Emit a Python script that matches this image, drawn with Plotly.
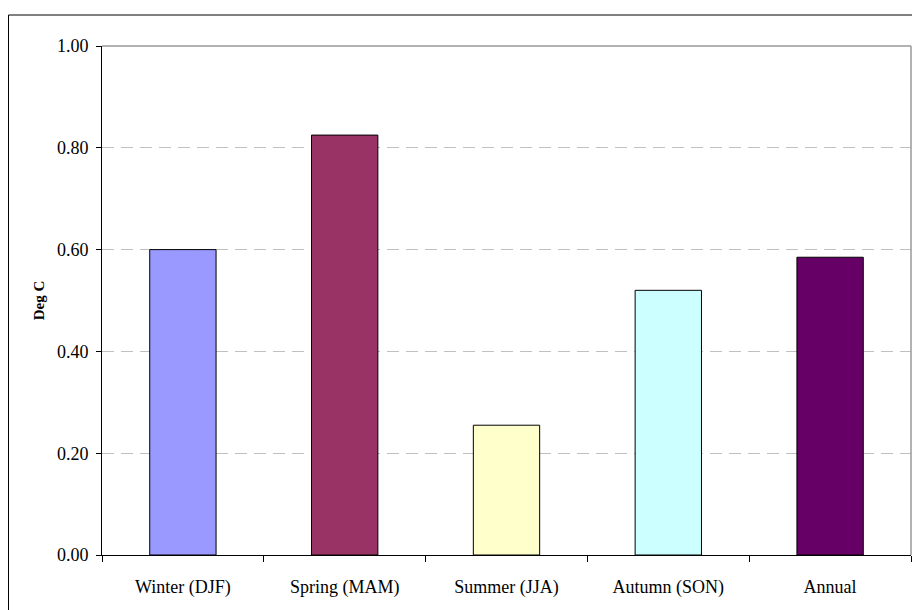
import plotly.graph_objects as go

# Seasonal and annual temperature change (Deg C)
seasons = ["Winter (DJF)", "Spring (MAM)", "Summer (JJA)", "Autumn (SON)", "Annual"]
values = [0.60, 0.825, 0.255, 0.52, 0.585]
bar_colors = ["#9999FF", "#993366", "#FFFFCC", "#CCFFFF", "#660066"]
y_ticks = [0.0, 0.2, 0.4, 0.6, 0.8, 1.0]
y_tick_text = ["0.00", "0.20", "0.40", "0.60", "0.80", "1.00"]

font_family = "Liberation Serif, Times New Roman, serif"

fig = go.Figure(
    go.Bar(
        x=seasons,
        y=values,
        marker=dict(color=bar_colors, line=dict(color="#000000", width=1)),
        width=0.41,
        hoverinfo="x+y",
    )
)

# plot area geometry (pixels)
W, H = 912, 610
L, R, T, B = 102, 1, 46, 55
pw, ph = W - L - R, H - T - B

def px_x(x):
    return (x - L) / pw

def px_y(y):
    return (H - B - y) / ph

fig.update_layout(
    width=W,
    height=H,
    margin=dict(l=L, r=R, t=T, b=B),
    paper_bgcolor="white",
    plot_bgcolor="white",
    showlegend=False,
    font=dict(family=font_family, size=18, color="#000000"),
    xaxis=dict(
        showline=True,
        linecolor="#000000",
        linewidth=1,
        ticks="outside",
        ticklen=6,
        tickcolor="#000000",
        tickson="boundaries",
        showgrid=False,
        ticklabelstandoff=15,
        tickfont=dict(family=font_family, size=18),
        fixedrange=True,
    ),
    yaxis=dict(
        range=[0, 1.0],
        tickvals=y_ticks,
        ticktext=y_tick_text,
        showline=True,
        linecolor="#000000",
        linewidth=1,
        ticks="outside",
        ticklen=5,
        tickcolor="#000000",
        showgrid=True,
        gridcolor="#c0c0c0",
        gridwidth=1,
        griddash="12px,7px",
        zeroline=False,
        ticklabelstandoff=4,
        tickfont=dict(family=font_family, size=18),
        title=dict(
            text="<b>Deg C</b>",
            font=dict(family=font_family, size=15),
            standoff=8,
        ),
        fixedrange=True,
    ),
    shapes=[
        # plot area border (top and right)
        dict(type="line", xref="paper", yref="paper", x0=0, x1=1, y0=1, y1=1,
             line=dict(color="#999999", width=1.5)),
        dict(type="line", xref="paper", yref="paper", x0=1, x1=1, y0=0, y1=1,
             line=dict(color="#999999", width=1.5)),
        # chart frame
        dict(type="rect", xref="paper", yref="paper",
             x0=px_x(8.5), x1=px_x(930), y0=px_y(15), y1=px_y(630),
             line=dict(color="#000000", width=1), fillcolor="rgba(0,0,0,0)",
             layer="above"),
    ],
)

fig.write_html("out.html")
